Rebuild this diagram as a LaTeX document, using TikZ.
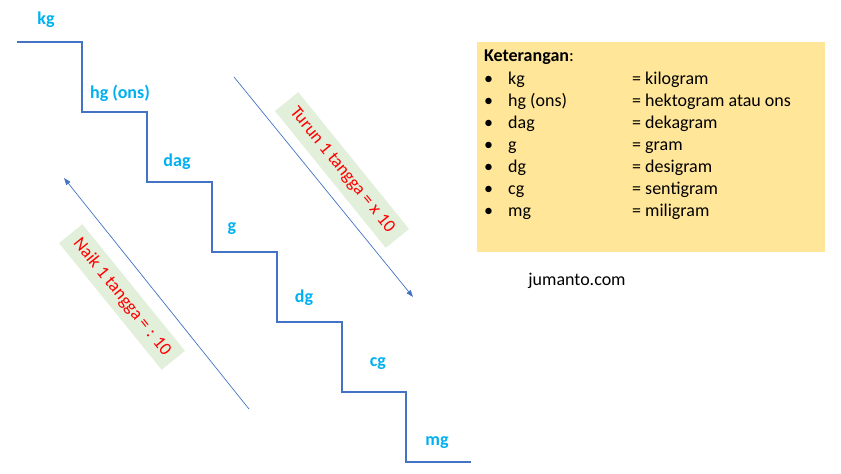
\documentclass[tikz,border=0pt]{standalone}
\usepackage{fontspec}
\setmainfont{Carlito}
\usepackage{xcolor}
\usetikzlibrary{arrows.meta, positioning}
\definecolor{stairblue}{HTML}{4472C4}
\definecolor{unitcyan}{HTML}{00B0F0}
\definecolor{notegreen}{HTML}{E2EFDA}
\definecolor{legendyellow}{HTML}{FFE699}
\tikzset{
	stairline/.style={draw=stairblue, line width=1.2pt},
	unitlabel/.style={text=unitcyan, font=\fontsize{18}{21}\selectfont\bfseries, inner sep=0pt},
	rulearrow/.style={draw=stairblue, line width=0.7pt, -{Triangle[length=7pt,width=5pt]}},
	notebox/.style={fill=notegreen, text=red, font=\fontsize{18}{21}\selectfont, minimum height=30pt, inner xsep=6pt, rotate=-51},
	rowtext/.style={anchor=base west, inner sep=0pt, font=\fontsize{18}{21}\selectfont}
}
\begin{document}
\begin{tikzpicture}[x=1pt, y=1pt]
			\useasboundingbox (0,0) rectangle (841,474);
			% tangga
			\draw[stairline] (17,432) -- (82,432) -- (82,362) -- (147,362) -- (147,292) -- (212,292)
				-- (212,222) -- (277,222) -- (277,152) -- (342,152) -- (342,82) -- (406,82) -- (406,12) -- (471,12);
			
			\draw (46,454) node[unitlabel] (kg) {kg}
			(120,381) node[unitlabel] (hg) {hg (ons)}
			(177,312) node[unitlabel] (dag) {dag}
			(232,245) node[unitlabel] (g) {g}
			(304,176) node[unitlabel] (dg) {dg}
			(378,110) node[unitlabel] (cg) {cg}
			(437,31) node[unitlabel] (mg) {mg};
			
			% panah naik / turun
			\coordinate (turunA) at (234,397);
			\coordinate (turunB) at (413,177);
			\coordinate (naikA) at (249,65);
			\coordinate (naikB) at (64,296);
			\draw[rulearrow] (turunA) -- (turunB);
			\draw[rulearrow] (naikA) -- (naikB);
			\node[notebox, minimum width=176pt] (turun) at (342,304) {Turun 1 tangga = x 10};
			\node[notebox, minimum width=163pt] (naik) at (122,177) {Naik 1 tangga = : 10};
			
			% keterangan
			\fill[legendyellow] (477,432) rectangle (825,222);
			\node[rowtext] (ket) at (484,412) {\textbf{Keterangan}:};
			\foreach \sym/\nama [count=\i] in {kg/kilogram, hg (ons)/hektogram atau ons, dag/dekagram, g/gram, dg/desigram, cg/sentigram, mg/miligram}{
				\node[rowtext] (b\i) at (484,{389-22*(\i-1)}) {\textbullet};
				\node[rowtext] (s\i) at (508,{389-22*(\i-1)}) {\sym};
				\node[rowtext] (n\i) at (632,{389-22*(\i-1)}) {= \nama};
			}
			\node[font=\fontsize{18}{21}\selectfont, inner sep=0pt] (web) at (577,193) {jumanto.com};
		\end{tikzpicture}
\end{document}
